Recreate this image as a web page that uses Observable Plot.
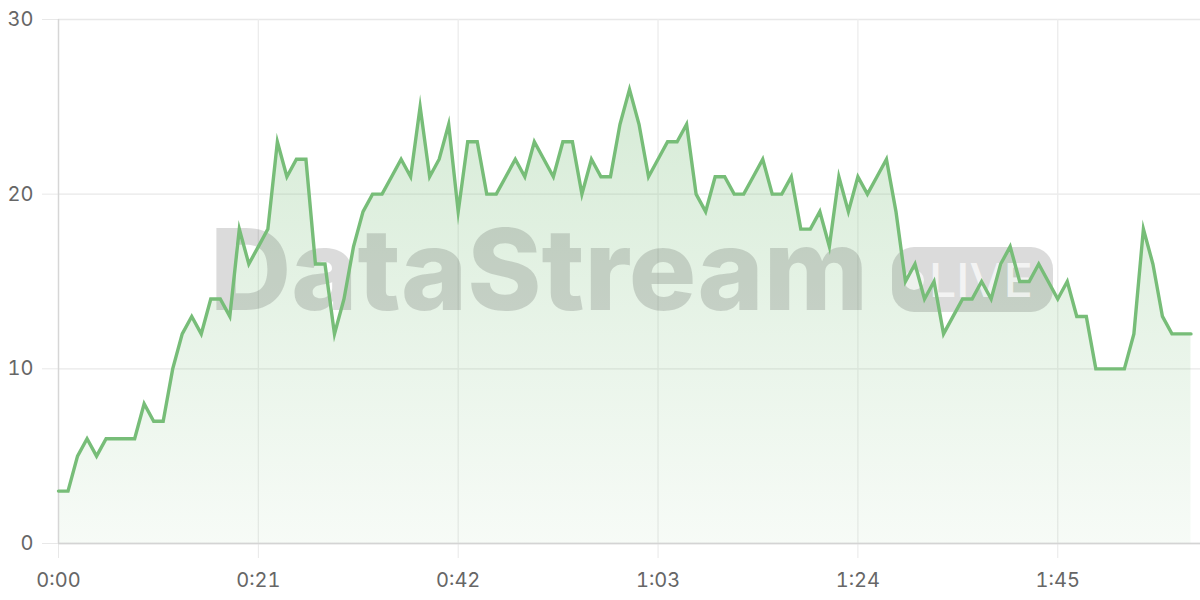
<!DOCTYPE html>
<html>
<head>
<meta charset="utf-8">
<script src="https://cdn.jsdelivr.net/npm/d3@7"></script>
<script src="https://cdn.jsdelivr.net/npm/@observablehq/plot@0.6"></script>
<style>
  html, body { margin: 0; padding: 0; background: #fff; }
  #chart { width: 1200px; height: 600px; }
</style>
</head>
<body>
<div id="chart"></div>
<script>
// Values per second (0:00 .. 1:59)
const values = [
  3, 3, 5, 6, 5, 6, 6, 6, 6, 8,
  7, 7, 10, 12, 13, 12, 14, 14, 13, 18,
  16, 17, 18, 23, 21, 22, 22, 16, 16, 12,
  14, 17, 19, 20, 20, 21, 22, 21, 25, 21,
  22, 24, 19, 23, 23, 20, 20, 21, 22, 21,
  23, 22, 21, 23, 23, 20, 22, 21, 21, 24,
  26, 24, 21, 22, 23, 23, 24, 20, 19, 21,
  21, 20, 20, 21, 22, 20, 20, 21, 18, 18,
  19, 17, 21, 19, 21, 20, 21, 22, 19, 15,
  16, 14, 15, 12, 13, 14, 14, 15, 14, 16,
  17, 15, 15, 16, 15, 14, 15, 13, 13, 10,
  10, 10, 10, 12, 18, 16, 13, 12, 12, 12
];
const xTicks = [0, 21, 42, 63, 84, 105];
const yTicks = [0, 10, 20, 30];
const watermarkText = "DataStream";
const badgeText = "LIVE";

const data = values.map((v, i) => ({t: i, v}));
const fmt = s => `${Math.floor(s / 60)}:${String(s % 60).padStart(2, "0")}`;

const lineColor = "#77bd78";

const plot = Plot.plot({
  width: 1200,
  height: 600,
  marginLeft: 58,
  marginRight: 0,
  marginTop: 19,
  marginBottom: 57,
  style: {fontFamily: "Inter, 'Noto Sans', sans-serif", background: "#fff"},
  x: {domain: [0, 120]},
  y: {domain: [0, 30]},
  marks: [
    Plot.gridY(yTicks, {stroke: "#e8e8e8", strokeOpacity: 1, strokeWidth: 1.3}),
    Plot.gridX(xTicks.filter(d => d > 0), {stroke: "#ececec", strokeOpacity: 1, strokeWidth: 1.3}),
    Plot.axisY({ticks: yTicks, tickSize: 16, tickPadding: 9, stroke: "#e8e8e8", strokeOpacity: 1, fill: "#666", fontSize: 20, label: null}),
    Plot.axisX({ticks: xTicks, tickSize: 15, tickPadding: 14, stroke: "#e8e8e8", strokeOpacity: 1, fill: "#666", fontSize: 20, tickFormat: fmt, label: null}),
    Plot.areaY(data, {x: "t", y: "v", fill: "url(#areaGrad)", curve: "linear"}),
    Plot.ruleX([0], {stroke: "#d6d6d6", strokeWidth: 1.5}),
    Plot.ruleY([0], {stroke: "#d4d4d4", strokeWidth: 1.5}),
    Plot.lineY(data, {x: "t", y: "v", stroke: lineColor, strokeWidth: 3.4, strokeLinejoin: "miter", strokeMiterlimit: 10, curve: "linear"})
  ]
});

const svg = d3.select(plot);
const defs = svg.insert("defs", ":first-child");
const grad = defs.append("linearGradient").attr("id", "areaGrad")
  .attr("x1", 0).attr("y1", 0).attr("x2", 0).attr("y2", 1);
grad.append("stop").attr("offset", "0%").attr("stop-color", lineColor).attr("stop-opacity", 0.3);
grad.append("stop").attr("offset", "100%").attr("stop-color", lineColor).attr("stop-opacity", 0.06);

// Watermark (decoration), placed below the line mark
const lineG = plot.querySelector('[aria-label="line"]');
const wm = document.createElementNS("http://www.w3.org/2000/svg", "g");
lineG.parentNode.insertBefore(wm, lineG);
const w = d3.select(wm).attr("pointer-events", "none").attr("text-anchor", "start");
w.append("text")
  .attr("x", 210).attr("y", 310)
  .attr("text-anchor", "start")
  .attr("textLength", 658).attr("lengthAdjust", "spacingAndGlyphs")
  .attr("font-family", "Inter, 'DejaVu Sans', sans-serif")
  .attr("font-weight", 800).attr("font-size", 113)
  .attr("fill", "#000").attr("fill-opacity", 0.14)
  .text(watermarkText);
w.append("rect")
  .attr("x", 892).attr("y", 247).attr("width", 161).attr("height", 65)
  .attr("rx", 22).attr("fill", "#000").attr("fill-opacity", 0.14);
w.append("circle")
  .attr("cx", 914).attr("cy", 280).attr("r", 10)
  .attr("fill", "#fff").attr("fill-opacity", 0.7);
w.append("text")
  .attr("x", 929).attr("y", 297)
  .attr("text-anchor", "start")
  .attr("textLength", 104).attr("lengthAdjust", "spacingAndGlyphs")
  .attr("font-family", "Inter, 'DejaVu Sans', sans-serif")
  .attr("font-weight", 500).attr("font-size", 47)
  .attr("fill", "#fff").attr("fill-opacity", 0.7)
  .text(badgeText);

document.getElementById("chart").appendChild(plot);
</script>
</body>
</html>
